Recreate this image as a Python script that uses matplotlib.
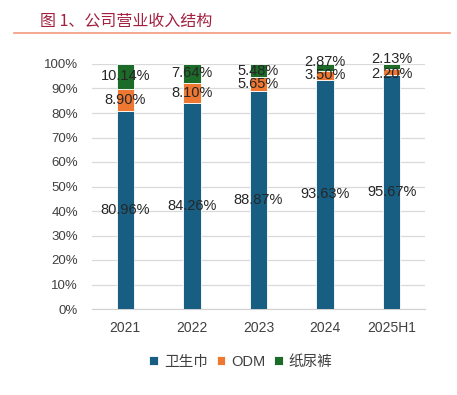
import matplotlib.pyplot as plt
import numpy as np
from matplotlib.lines import Line2D

plt.rcParams['font.family'] = ['Liberation Sans', 'Noto Sans CJK SC', 'DejaVu Sans']

years = ['2021', '2022', '2023', '2024', '2025H1']
pads = [80.96, 84.26, 88.87, 93.63, 95.67]
odm = [8.90, 8.10, 5.65, 3.50, 2.20]
diapers = [10.14, 7.64, 5.48, 2.87, 2.13]

names = ['卫生巾', 'ODM', '纸尿裤']
colors = ['#175e82', '#ee7732', '#1d6b28']
# label nudges (in % units) so the thin top segments stay readable
nudge = {1: [0, 0, 0, 0, -1.0], 2: [0, 0, 0, 2.2, 3.0]}

fig = plt.figure(figsize=(4.57, 3.95), dpi=100)
ax = fig.add_axes([92/457, 1-309/395, 333/457, 245/395])

x = np.arange(len(years))
w = 0.26
bottom = np.zeros(len(years))
for k, (vals, name, c) in enumerate(zip([pads, odm, diapers], names, colors)):
    vals = np.array(vals)
    ax.bar(x, vals, w, bottom=bottom, color=c, edgecolor='white', linewidth=0.6,
           label=name, zorder=3)
    dy = nudge.get(k, [0]*len(years))
    for xi, b, v, d in zip(x, bottom, vals, dy):
        ax.text(xi, b + v/2 + d, f'{v:.2f}%', ha='center', va='center',
                fontsize=10.5, color='#262626', zorder=4)
    bottom += vals

ax.set_xlim(-0.5, len(years)-0.5)
ax.set_ylim(0, 100)
ax.set_yticks(range(0, 101, 10))
ax.set_yticklabels([f'{v}%' for v in range(0, 101, 10)])
ax.set_xticks(x)
ax.set_xticklabels(years)
ax.tick_params(axis='both', length=0, labelsize=10, colors='#404040')
ax.tick_params(axis='y', labelsize=9.5, pad=10)
ax.tick_params(axis='x', pad=9)
ax.grid(axis='y', color='#d9d9d9', linewidth=0.9, zorder=0)
for s in ['top', 'right', 'left']:
    ax.spines[s].set_visible(False)
ax.spines['bottom'].set_color('#d0d0d0')

handles, labels = ax.get_legend_handles_labels()
fig.legend(handles, labels, loc='center', bbox_to_anchor=(241/457, 1-362/395),
           ncol=3, frameon=False, fontsize=10.5, handlelength=0.6, handleheight=0.6,
           handletextpad=0.4, columnspacing=0.6, labelcolor='#404040')

fig.text(40/457, 1-21/395, '图 1、公司营业收入结构', fontsize=11.5, color='#a3203f',
         ha='left', va='center', family=['Noto Sans CJK SC'])
fig.add_artist(Line2D([14/457, 450/457], [1-33/395, 1-33/395], color='#f29a7b',
                      linewidth=1.2, transform=fig.transFigure))

fig.savefig('out.png', dpi=100)
